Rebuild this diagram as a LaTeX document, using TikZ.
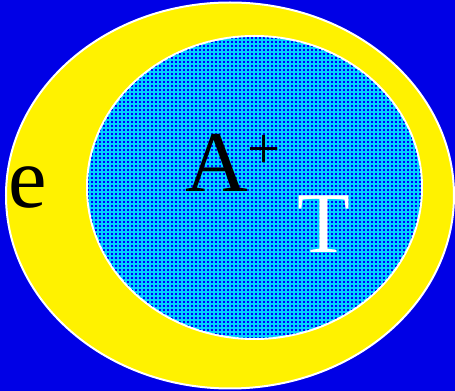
\documentclass[tikz,border=0pt]{standalone}
\usepackage{fontspec}
\setmainfont{Liberation Serif}
\usepackage{xcolor}
\usepackage{tikz}
\usetikzlibrary{patterns.meta,positioning}

\definecolor{bgblue}{RGB}{0,0,230}
\definecolor{skyfill}{RGB}{0,210,255}
\tikzdeclarepattern{
  name=sqdots,
  type=uncolored,
  bounding box={(0,0) and (3pt,3pt)},
  tile size={(3pt,3pt)},
  code={\fill (0,0) rectangle (1.4pt,1.4pt);}
}

\begin{document}
\begin{tikzpicture}[x=0.75pt,y=-0.75pt,rim/.style={draw=white,line width=1.5pt},lbl/.style={inner sep=0pt,anchor=base,font=\fontsize{65}{65}\selectfont}]
 \fill[bgblue] (0,0) rectangle (455,391);
 \useasboundingbox (0,0) rectangle (455,391);
 \filldraw[rim,fill=yellow] (230,195.5) ellipse [x radius=224,y radius=193];
 \filldraw[rim,fill=skyfill] (254.5,187.5) ellipse [x radius=167.5,y radius=151.5];
 \fill[pattern=sqdots,pattern color=blue] (254.5,187.5) ellipse [x radius=166.5,y radius=150.5];
 \node[lbl] (e) at (28,208) {e};
 \node[lbl] (A) at (217,192) {A};
 \node[inner sep=0pt,font=\fontsize{44}{44}\selectfont] (plus) at (264,152) {+};
 \node[lbl,text=white] (T) at (324,253) {T};
\end{tikzpicture}
\end{document}
